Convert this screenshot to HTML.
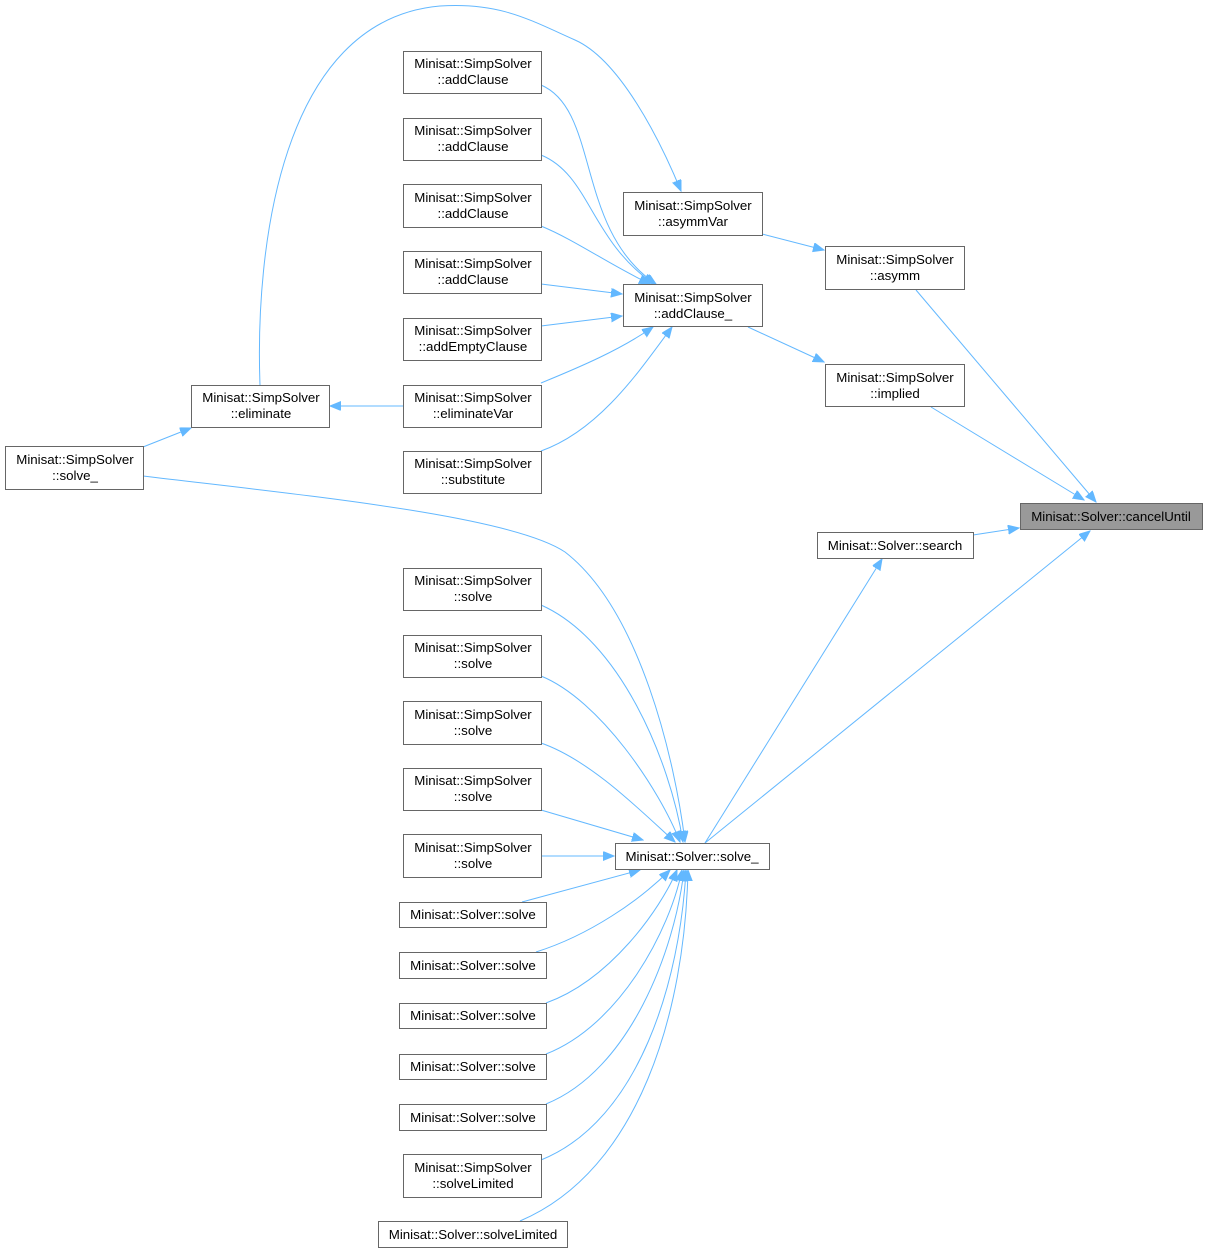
<!DOCTYPE html>
<html><head><meta charset="utf-8"><style>
html,body{margin:0;padding:0;background:#fff;}
svg{display:block;}
text{font-family:"Liberation Sans",Arial,sans-serif;font-size:13.3px;fill:#000;text-anchor:middle;}
.n{fill:#fff;stroke:#666;stroke-width:1;}
.e{fill:none;stroke:#63b8ff;stroke-width:1;}
</style></head><body>
<svg width="1208" height="1253" viewBox="0 0 1208 1253" xmlns="http://www.w3.org/2000/svg">
<defs>
<marker id="a" markerUnits="userSpaceOnUse" markerWidth="12" markerHeight="10" refX="11" refY="4.5" orient="auto">
<path d="M0,0 L11,4.5 L0,9 z" fill="#63b8ff" stroke="#63b8ff"/>
</marker>
</defs>
<g class="edges">
<path class="e" marker-end="url(#a)" d="M916,290 L1096,502"/>
<path class="e" marker-end="url(#a)" d="M931,407 L1084,500"/>
<path class="e" marker-end="url(#a)" d="M973,535 L1019,528"/>
<path class="e" marker-end="url(#a)" d="M705,843 L1090,531"/>
<path class="e" marker-end="url(#a)" d="M705,843 L882,559"/>
<path class="e" marker-end="url(#a)" d="M762,234 L824,250"/>
<path class="e" marker-end="url(#a)" d="M748,327 L824,362"/>
<path class="e" marker-end="url(#a)" d="M541,85 C600,110 575,230 656,284"/>
<path class="e" marker-end="url(#a)" d="M541,155 C590,175 590,240 654,284"/>
<path class="e" marker-end="url(#a)" d="M541,226 C575,240 610,265 650,284"/>
<path class="e" marker-end="url(#a)" d="M541,284 L622,294"/>
<path class="e" marker-end="url(#a)" d="M541,326 L622,316"/>
<path class="e" marker-end="url(#a)" d="M541,383 C580,367 620,350 653,327"/>
<path class="e" marker-end="url(#a)" d="M541,451 C600,430 640,370 672,327"/>
<path class="e" marker-end="url(#a)" d="M260,385 C255,250 280,20 440,6 C500,2 530,20 575,40 C620,60 660,140 681,191"/>
<path class="e" marker-end="url(#a)" d="M403,406 L330,406"/>
<path class="e" marker-end="url(#a)" d="M143,447 L191,428"/>
<path class="e" marker-end="url(#a)" d="M143,476 C300,495 510,515 565,552 C640,610 675,760 685,842"/>
<path class="e" marker-end="url(#a)" d="M541,605 C620,640 670,760 683,842"/>
<path class="e" marker-end="url(#a)" d="M541,676 C600,700 660,790 680,842"/>
<path class="e" marker-end="url(#a)" d="M541,743 C590,760 640,810 675,842"/>
<path class="e" marker-end="url(#a)" d="M541,810 L643,840"/>
<path class="e" marker-end="url(#a)" d="M541,856 L614,856"/>
<path class="e" marker-end="url(#a)" d="M522,902 L640,870"/>
<path class="e" marker-end="url(#a)" d="M536,952 C590,935 640,900 670,870"/>
<path class="e" marker-end="url(#a)" d="M546,1003 C610,980 660,910 677,870"/>
<path class="e" marker-end="url(#a)" d="M546,1054 C620,1025 670,930 682,870"/>
<path class="e" marker-end="url(#a)" d="M546,1104 C630,1070 675,950 684,870"/>
<path class="e" marker-end="url(#a)" d="M541,1160 C640,1120 680,980 686,870"/>
<path class="e" marker-end="url(#a)" d="M520,1221 C640,1170 685,1010 688,870"/>
</g>
<g>
<rect x="1020.5" y="503.5" width="182" height="26" fill="#999" stroke="#666"/>
<text x="1111" y="521">Minisat::Solver::cancelUntil</text>

<rect class="n" x="817.5" y="532.5" width="156" height="26"/>
<text x="895" y="550">Minisat::Solver::search</text>

<rect class="n" x="825.5" y="246.5" width="139" height="43"/>
<text x="895" y="264">Minisat::SimpSolver</text><text x="895" y="280">::asymm</text>

<rect class="n" x="825.5" y="364.5" width="139" height="42"/>
<text x="895" y="382">Minisat::SimpSolver</text><text x="895" y="398">::implied</text>

<rect class="n" x="623.5" y="192.5" width="139" height="43"/>
<text x="693" y="210">Minisat::SimpSolver</text><text x="693" y="226">::asymmVar</text>

<rect class="n" x="623.5" y="284.5" width="139" height="42"/>
<text x="693" y="302">Minisat::SimpSolver</text><text x="693" y="318">::addClause_</text>

<rect class="n" x="403.5" y="51.5" width="138" height="42"/>
<text x="473" y="68">Minisat::SimpSolver</text><text x="473" y="84">::addClause</text>
<rect class="n" x="403.5" y="118.5" width="138" height="42"/>
<text x="473" y="135">Minisat::SimpSolver</text><text x="473" y="151">::addClause</text>
<rect class="n" x="403.5" y="184.5" width="138" height="43"/>
<text x="473" y="202">Minisat::SimpSolver</text><text x="473" y="218">::addClause</text>
<rect class="n" x="403.5" y="251.5" width="138" height="42"/>
<text x="473" y="268">Minisat::SimpSolver</text><text x="473" y="284">::addClause</text>
<rect class="n" x="403.5" y="318.5" width="138" height="42"/>
<text x="473" y="335">Minisat::SimpSolver</text><text x="473" y="351">::addEmptyClause</text>
<rect class="n" x="403.5" y="385.5" width="138" height="42"/>
<text x="473" y="402">Minisat::SimpSolver</text><text x="473" y="418">::eliminateVar</text>
<rect class="n" x="403.5" y="451.5" width="138" height="42"/>
<text x="473" y="468">Minisat::SimpSolver</text><text x="473" y="484">::substitute</text>

<rect class="n" x="191.5" y="385.5" width="138" height="42"/>
<text x="261" y="402">Minisat::SimpSolver</text><text x="261" y="418">::eliminate</text>

<rect class="n" x="5.5" y="446.5" width="138" height="43"/>
<text x="75" y="464">Minisat::SimpSolver</text><text x="75" y="480">::solve_</text>

<rect class="n" x="615.5" y="843.5" width="154" height="26"/>
<text x="692" y="861">Minisat::Solver::solve_</text>

<rect class="n" x="403.5" y="568.5" width="138" height="42"/>
<text x="473" y="585">Minisat::SimpSolver</text><text x="473" y="601">::solve</text>
<rect class="n" x="403.5" y="635.5" width="138" height="42"/>
<text x="473" y="652">Minisat::SimpSolver</text><text x="473" y="668">::solve</text>
<rect class="n" x="403.5" y="701.5" width="138" height="43"/>
<text x="473" y="719">Minisat::SimpSolver</text><text x="473" y="735">::solve</text>
<rect class="n" x="403.5" y="768.5" width="138" height="42"/>
<text x="473" y="785">Minisat::SimpSolver</text><text x="473" y="801">::solve</text>
<rect class="n" x="403.5" y="834.5" width="138" height="43"/>
<text x="473" y="852">Minisat::SimpSolver</text><text x="473" y="868">::solve</text>

<rect class="n" x="399.5" y="902.5" width="147" height="25"/>
<text x="473" y="919">Minisat::Solver::solve</text>
<rect class="n" x="399.5" y="952.5" width="147" height="26"/>
<text x="473" y="970">Minisat::Solver::solve</text>
<rect class="n" x="399.5" y="1003.5" width="147" height="25"/>
<text x="473" y="1020">Minisat::Solver::solve</text>
<rect class="n" x="399.5" y="1054.5" width="147" height="25"/>
<text x="473" y="1071">Minisat::Solver::solve</text>
<rect class="n" x="399.5" y="1104.5" width="147" height="26"/>
<text x="473" y="1122">Minisat::Solver::solve</text>

<rect class="n" x="403.5" y="1154.5" width="138" height="43"/>
<text x="473" y="1172">Minisat::SimpSolver</text><text x="473" y="1188">::solveLimited</text>

<rect class="n" x="378.5" y="1221.5" width="189" height="26"/>
<text x="473" y="1239">Minisat::Solver::solveLimited</text>
</g>
</svg>
</body></html>
